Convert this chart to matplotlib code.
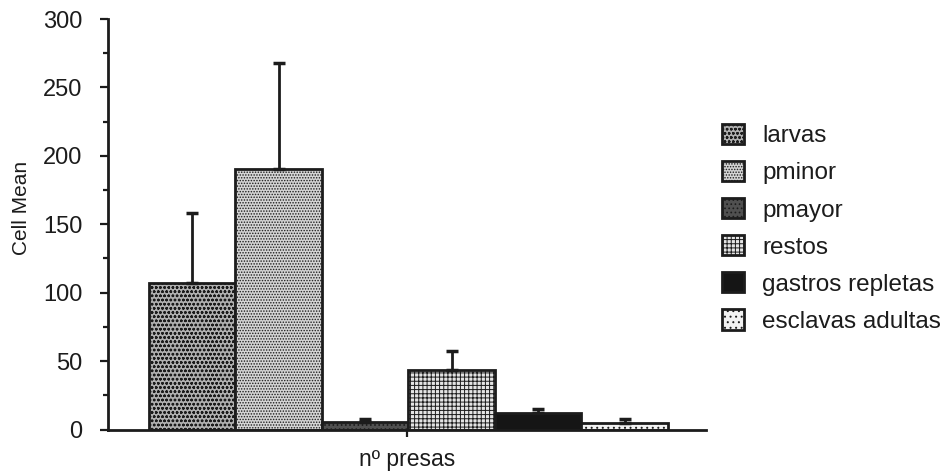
import matplotlib
matplotlib.use("Agg")
import matplotlib.pyplot as plt
from matplotlib.ticker import MultipleLocator

categories = ["larvas", "pminor", "pmayor", "restos", "gastros repletas", "esclavas adultas"]
means = [107.3, 190.4, 5.7, 43.5, 12.3, 4.8]
upper_err = [50.7, 77.6, 1.8, 14.1, 2.5, 2.7]
yticks = [0, 50, 100, 150, 200, 250, 300]

faces = ["#b0b0b0", "#d4d4d4", "#505050", "#e4e4e4", "#151515", "#f2f2f2"]
hatches = ["oooo", "......", "....", "++++", None, "..."]

plt.rcParams["font.family"] = ["Liberation Sans", "DejaVu Sans"]
plt.rcParams["hatch.linewidth"] = 0.7

ink = "#1c1c1c"
fig = plt.figure(figsize=(9.53, 4.72), dpi=100)
ax = fig.add_axes([0.1133, 0.09, 0.6275, 0.8697])

for i, (name, m, e, fc, h) in enumerate(zip(categories, means, upper_err, faces, hatches)):
    ax.bar(i, m, width=1.0, align="edge", facecolor=fc, edgecolor=ink,
           linewidth=2.0, hatch=h, label=name, zorder=2)
    ax.errorbar(i + 0.5, m, yerr=[[0], [e]], fmt="none", ecolor=ink,
                elinewidth=2.0, capsize=4, capthick=2.5, zorder=3)

ax.set_xlim(-0.474, 6.44)
ax.set_ylim(0, 300)
ax.set_yticks(yticks)
ax.yaxis.set_minor_locator(MultipleLocator(25))
ax.set_xticks([(-0.474 + 6.44) / 2])
ax.set_xticklabels([""])
ax.tick_params(axis="y", which="major", direction="out", length=5.5, width=1.6,
               labelsize=17, colors=ink, pad=13)
ax.tick_params(axis="y", which="minor", direction="out", length=3.5, width=1.6, colors=ink)
ax.tick_params(axis="x", direction="out", length=5, width=1.6, colors=ink)
for side in ("top", "right"):
    ax.spines[side].set_visible(False)
for side in ("left", "bottom"):
    ax.spines[side].set_linewidth(2.0)
    ax.spines[side].set_color(ink)

ax.set_ylabel("Cell Mean", fontsize=15, color=ink)
ax.yaxis.set_label_coords(-0.128, 0.54)
ax.set_xlabel("nº presas", fontsize=16.5, color=ink, labelpad=5)

ax.legend(loc="center left", bbox_to_anchor=(0.99, 0.49), frameon=False,
          fontsize=17.5, handlelength=0.9, handleheight=0.9, labelspacing=0.56,
          handletextpad=0.75, labelcolor=ink)

fig.savefig("out.png", dpi=100)
